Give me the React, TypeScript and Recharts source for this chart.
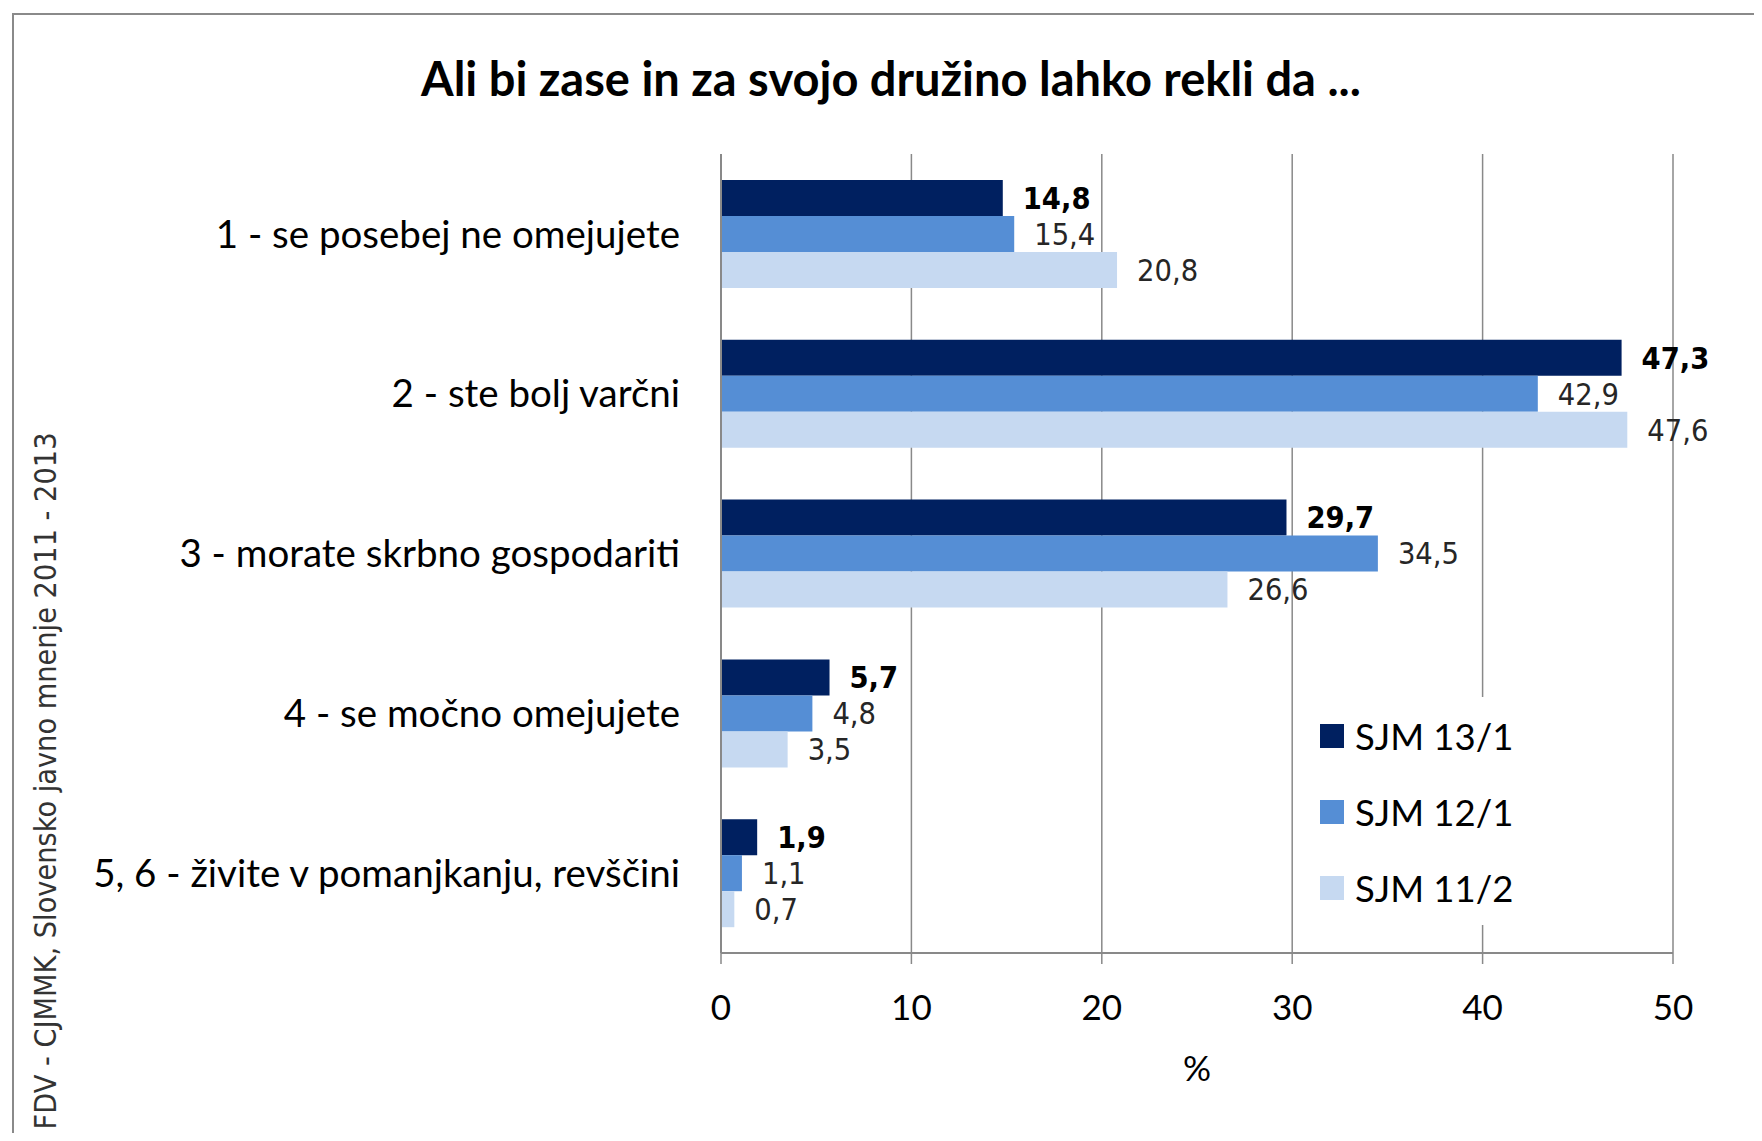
import React from 'react';
import { BarChart, Bar, XAxis, YAxis, CartesianGrid, LabelList, Legend } from 'recharts';

const categories = [
  '1 - se posebej ne omejujete',
  '2 - ste bolj varčni',
  '3 - morate skrbno gospodariti',
  '4 - se močno omejujete',
  '5, 6 - živite v pomanjkanju, revščini',
];
const sjm13_1 = [14.8, 47.3, 29.7, 5.7, 1.9];
const sjm12_1 = [15.4, 42.9, 34.5, 4.8, 1.1];
const sjm11_2 = [20.8, 47.6, 26.6, 3.5, 0.7];
const seriesNames = ['SJM 13/1', 'SJM 12/1', 'SJM 11/2'];
const xTicks = [0, 10, 20, 30, 40, 50];
const colors = ['#002060', '#558ED5', '#C6D9F1'];

const title = 'Ali bi zase in za svojo družino lahko rekli da ...';
const source = 'FDV - CJMMK, Slovensko javno mnenje 2011 - 2013';

const data = categories.map((name, i) => ({
  name,
  s1: sjm13_1[i],
  s2: sjm12_1[i],
  s3: sjm11_2[i],
}));

const fmt = (v: any) => Number(v).toFixed(1).replace('.', ',');

const mainFont = 'Lato, "Open Sans", sans-serif';
const labelFont = '"DejaVu Sans Condensed", "DejaVu Sans", sans-serif';
const gray = '#898989';

const LegendContent = (props: any) => {
  const payload = [...(props.payload || [])].sort(
    (a: any, b: any) => seriesNames.indexOf(a.value) - seriesNames.indexOf(b.value)
  );
  return (
    <div style={{ width: 360, height: 228, background: '#fff', position: 'relative' }}>
      {payload.map((p: any, i: number) => (
        <div
          key={i}
          style={{
            position: 'absolute',
            left: 20,
            top: 39 + i * 76 - 20,
            height: 40,
            display: 'flex',
            alignItems: 'center',
          }}
        >
          <div style={{ width: 24, height: 24, background: p.color, marginRight: 11 }} />
          <span style={{ fontFamily: mainFont, fontSize: 36.5, color: '#000', lineHeight: '40px' }}>{p.value}</span>
        </div>
      ))}
    </div>
  );
};

export default function App() {
  return (
    <div style={{ position: 'relative', width: 1754, height: 1125, overflow: 'hidden', background: '#fff' }}>
      <div
        style={{
          position: 'absolute',
          left: 4,
          top: 5,
          width: 1760,
          height: 1130,
          borderLeft: '2px solid #8a8a8a',
          borderTop: '2px solid #8a8a8a',
        }}
      />
      <div
        style={{
          position: 'absolute',
          left: 183,
          width: 1400,
          top: 44,
          textAlign: 'center',
          fontFamily: mainFont,
          fontWeight: 'bold',
          fontSize: 47,
          lineHeight: '52px',
          color: '#000',
        }}
      >
        {title}
      </div>
      <svg style={{ position: 'absolute', left: 0, top: 0 }} width={100} height={1125}>
        <text
          x={37}
          y={773}
          transform="rotate(-90, 37, 773)"
          textAnchor="middle"
          dominantBaseline="central"
          fontFamily={labelFont}
          fontSize={30.3}
          fill="#333"
        >
          {source}
        </text>
      </svg>
      <div style={{ position: 'absolute', left: 0, top: 0 }}>
        <BarChart
          width={1754}
          height={1125}
          data={data}
          layout="vertical"
          margin={{ top: 146, right: 89, bottom: 50, left: 0 }}
          barGap={0}
          barSize={36}
        >
          <CartesianGrid horizontal={false} vertical={true} stroke={gray} strokeWidth={1.5} />
          <XAxis
            type="number"
            domain={[0, 50]}
            ticks={xTicks}
            interval={0}
            height={130}
            tickSize={11}
            tickMargin={31}
            axisLine={{ stroke: gray, strokeWidth: 2 }}
            tickLine={{ stroke: gray, strokeWidth: 1.5 }}
            tick={{ fill: '#000', fontSize: 35, fontFamily: mainFont }}
            label={{ value: '%', position: 'insideBottom', offset: 2, fill: '#000', fontSize: 35, fontFamily: mainFont }}
          />
          <YAxis
            type="category"
            dataKey="name"
            width={713}
            tickSize={0}
            tickMargin={41}
            interval={0}
            axisLine={{ stroke: gray, strokeWidth: 2 }}
            tickLine={false}
            tick={{ fill: '#000', fontSize: 38.5, fontFamily: mainFont }}
          />
          <Legend
            layout="vertical"
            align="center"
            verticalAlign="middle"
            content={<LegendContent />}
            wrapperStyle={{ left: 1292, top: 689, width: 360, height: 228 }}
          />
          <Bar dataKey="s1" name={seriesNames[0]} fill={colors[0]} isAnimationActive={false}>
            <LabelList
              dataKey="s1"
              position="right"
              offset={20}
              formatter={fmt}
              fill="#000"
              fontSize={30.5}
              fontWeight="bold"
              fontFamily={labelFont}
            />
          </Bar>
          <Bar dataKey="s2" name={seriesNames[1]} fill={colors[1]} isAnimationActive={false}>
            <LabelList
              dataKey="s2"
              position="right"
              offset={20}
              formatter={fmt}
              fill="#262626"
              fontSize={30.5}
              fontFamily={labelFont}
            />
          </Bar>
          <Bar dataKey="s3" name={seriesNames[2]} fill={colors[2]} isAnimationActive={false}>
            <LabelList
              dataKey="s3"
              position="right"
              offset={20}
              formatter={fmt}
              fill="#262626"
              fontSize={30.5}
              fontFamily={labelFont}
            />
          </Bar>
        </BarChart>
      </div>
    </div>
  );
}
